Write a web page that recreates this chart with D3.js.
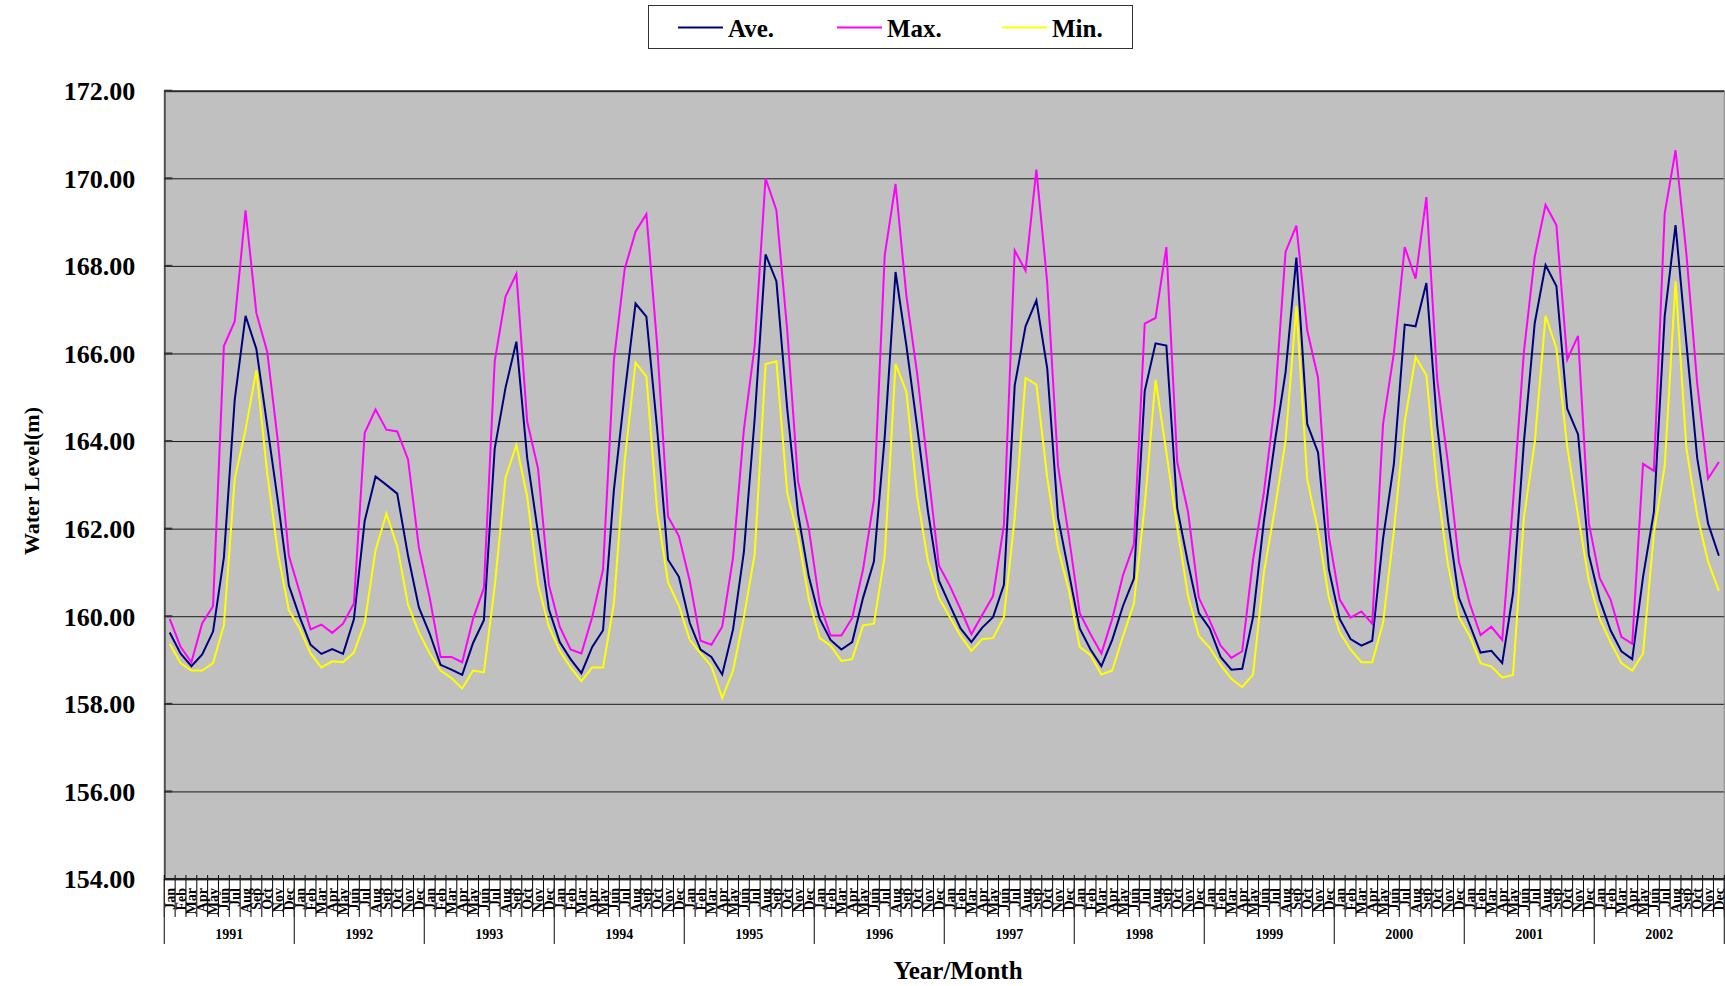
<!DOCTYPE html>
<html>
<head>
<meta charset="utf-8">
<script src="https://cdn.jsdelivr.net/npm/d3@7"></script>
<style>
  body { margin: 0; background: #fff; }
  text { font-family: "Liberation Serif", "Times New Roman", serif; font-weight: bold; fill: #000; }
</style>
</head>
<body>
<svg width="1725" height="986"></svg>
<script>
// monthly water level (m), 1991-2002
var years = ["1991", "1992", "1993", "1994", "1995", "1996", "1997", "1998", "1999", "2000", "2001", "2002"];
var months = ["Jan", "Feb", "Mar", "Apr", "May", "Jun", "Jul", "Aug", "Sep", "Oct", "Nov", "Dec"];
var yTicks = [154, 156, 158, 160, 162, 164, 166, 168, 170, 172];

var ave = [
  159.63, 159.15, 158.86, 159.13, 159.65, 161.34, 164.94, 166.86, 166.10, 164.35, 162.60, 160.70,
  159.98, 159.35, 159.14, 159.25, 159.14, 159.93, 162.18, 163.19, 163.00, 162.80, 161.38, 160.20,
  159.60, 158.89, 158.78, 158.66, 159.39, 159.91, 163.83, 165.22, 166.27, 163.61, 161.90, 160.16,
  159.41, 159.02, 158.70, 159.30, 159.68, 162.88, 165.09, 167.14, 166.84, 164.26, 161.29, 160.90,
  159.85, 159.24, 159.07, 158.67, 159.70, 161.47, 164.52, 168.26, 167.65, 164.74, 162.34, 160.90,
  159.94, 159.46, 159.24, 159.41, 160.42, 161.25, 164.09, 167.86, 166.18, 164.31, 162.38, 160.81,
  160.26, 159.72, 159.41, 159.74, 159.98, 160.72, 165.27, 166.62, 167.21, 165.66, 162.25, 160.99,
  159.72, 159.24, 158.86, 159.46, 160.24, 160.86, 165.14, 166.23, 166.18, 162.47, 161.21, 160.07,
  159.72, 159.07, 158.78, 158.80, 159.98, 162.17, 163.96, 165.57, 168.19, 164.39, 163.74, 161.07,
  159.94, 159.48, 159.33, 159.44, 161.77, 163.48, 166.66, 166.62, 167.61, 164.35, 162.17, 160.42,
  159.81, 159.17, 159.21, 158.93, 160.53, 163.97, 166.69, 168.02, 167.54, 164.74, 164.15, 161.40,
  160.38, 159.68, 159.20, 159.02, 160.90, 162.38, 166.86, 168.93, 166.23, 163.61, 162.12, 161.38
];

var max = [
  159.94, 159.30, 158.95, 159.84, 160.23, 166.17, 166.73, 169.27, 166.92, 166.04, 163.96, 161.38,
  160.55, 159.70, 159.81, 159.62, 159.83, 160.29, 164.19, 164.72, 164.26, 164.22, 163.58, 161.57,
  160.42, 159.07, 159.07, 158.95, 159.94, 160.64, 165.82, 167.30, 167.82, 164.44, 163.37, 160.72,
  159.76, 159.24, 159.15, 159.98, 161.07, 165.83, 167.93, 168.78, 169.18, 166.18, 162.27, 161.83,
  160.81, 159.44, 159.35, 159.76, 161.34, 164.26, 166.18, 170.00, 169.27, 166.53, 163.08, 161.99,
  160.29, 159.56, 159.56, 159.96, 161.07, 162.65, 168.24, 169.87, 167.32, 165.53, 163.34, 161.16,
  160.70, 160.16, 159.59, 160.03, 160.46, 162.08, 168.35, 167.89, 170.20, 167.62, 163.43, 161.82,
  160.07, 159.59, 159.15, 159.94, 160.94, 161.64, 166.68, 166.81, 168.43, 163.52, 162.38, 160.42,
  159.90, 159.33, 159.05, 159.20, 161.29, 162.82, 164.83, 168.32, 168.92, 166.53, 165.44, 161.82,
  160.38, 159.97, 160.11, 159.83, 164.39, 166.01, 168.43, 167.71, 169.57, 165.40, 163.48, 161.25,
  160.29, 159.57, 159.76, 159.46, 162.60, 166.03, 168.21, 169.39, 168.93, 165.86, 166.40, 162.12,
  160.87, 160.38, 159.53, 159.37, 163.48, 163.32, 169.20, 170.64, 168.28, 165.31, 163.14, 163.52
];

var min = [
  159.37, 158.93, 158.76, 158.76, 158.93, 159.79, 163.13, 164.26, 165.62, 163.26, 161.42, 160.14,
  159.72, 159.15, 158.83, 158.97, 158.95, 159.17, 159.85, 161.51, 162.34, 161.60, 160.26, 159.63,
  159.15, 158.76, 158.59, 158.35, 158.76, 158.72, 160.68, 163.17, 163.91, 162.73, 160.72, 159.76,
  159.21, 158.83, 158.52, 158.83, 158.83, 160.29, 163.56, 165.79, 165.47, 162.38, 160.77, 160.24,
  159.46, 159.15, 158.86, 158.13, 158.76, 159.98, 161.42, 165.76, 165.82, 162.82, 161.82, 160.38,
  159.50, 159.33, 158.98, 159.02, 159.79, 159.83, 161.38, 165.76, 165.12, 162.73, 161.25, 160.42,
  159.98, 159.55, 159.21, 159.48, 159.50, 159.98, 162.25, 165.44, 165.29, 163.17, 161.55, 160.59,
  159.30, 159.11, 158.67, 158.76, 159.55, 160.29, 162.52, 165.40, 163.74, 162.03, 160.46, 159.55,
  159.28, 158.89, 158.57, 158.38, 158.67, 160.99, 162.43, 164.00, 167.08, 163.13, 161.95, 160.42,
  159.63, 159.24, 158.95, 158.95, 159.85, 161.95, 164.44, 165.92, 165.50, 162.95, 161.16, 159.98,
  159.55, 158.93, 158.85, 158.60, 158.66, 162.25, 163.96, 166.86, 166.12, 163.87, 162.30, 160.81,
  159.94, 159.41, 158.93, 158.76, 159.15, 161.90, 163.43, 167.65, 163.83, 162.30, 161.25, 160.58
];

var seriesNames = ["Ave.", "Max.", "Min."];
var seriesColors = ["#000080", "#FF00FF", "#FFFF00"];

var svg = d3.select("svg"),
    plotLeft = 164.3, plotRight = 1724.3, plotTop = 90.7, plotBottom = 879;

// one band per month
var keys = [];
years.forEach(function(yr) { months.forEach(function(m) { keys.push(yr + "-" + m); }); });

var x = d3.scaleBand().domain(keys).range([plotLeft, plotRight]).paddingInner(0).paddingOuter(0);
var y = d3.scaleLinear().domain([154, 172]).range([plotBottom, plotTop]);

// plot background
svg.append("rect")
    .attr("x", plotLeft).attr("y", plotTop)
    .attr("width", plotRight - plotLeft).attr("height", plotBottom - plotTop)
    .attr("fill", "#C0C0C0");

// horizontal grid + left axis
var yAxis = d3.axisLeft(y).tickValues(yTicks).tickSize(-(plotRight - plotLeft)).tickFormat(d3.format(".2f")).tickPadding(29);
var gy = svg.append("g").attr("transform", "translate(" + plotLeft + ",0)").call(yAxis);
gy.select(".domain").attr("stroke", "#505050").attr("stroke-width", 2);
gy.selectAll(".tick line").attr("stroke", "#1a1a1a").attr("stroke-width", 1);
gy.selectAll(".tick text").attr("font-size", 26).attr("dy", "0.34em")
    .style("font-family", "'Liberation Serif', 'Times New Roman', serif").style("font-weight", "bold");

// inward short ticks
svg.selectAll(".ytick").data(yTicks).enter().append("line")
    .attr("x1", plotLeft).attr("x2", plotLeft + 8)
    .attr("y1", function(d) { return y(d); }).attr("y2", function(d) { return y(d); })
    .attr("stroke", "#333").attr("stroke-width", 2);

// right border
svg.append("line").attr("x1", plotRight).attr("x2", plotRight).attr("y1", plotTop).attr("y2", plotBottom)
    .attr("stroke", "#808080").attr("stroke-width", 1);

// month separators
svg.selectAll(".msep").data(keys.concat(["end"])).enter().append("line")
    .attr("x1", function(d, i) { return i < keys.length ? x(d) : plotRight; })
    .attr("x2", function(d, i) { return i < keys.length ? x(d) : plotRight; })
    .attr("y1", plotBottom - 4).attr("y2", 917)
    .attr("stroke", "#000").attr("stroke-width", 1);

// month labels
svg.selectAll(".mlab").data(keys).enter().append("text")
    .attr("transform", function(d) { return "translate(" + (x(d) + x.bandwidth() / 2 + 5) + ",888) rotate(-90)"; })
    .attr("text-anchor", "end")
    .attr("font-size", 14)
    .text(function(d) { return d.split("-")[1]; });

// year separators and labels
var yearW = (plotRight - plotLeft) / years.length;
svg.selectAll(".ysep").data(d3.range(years.length + 1)).enter().append("line")
    .attr("x1", function(i) { return plotLeft + i * yearW; })
    .attr("x2", function(i) { return plotLeft + i * yearW; })
    .attr("y1", plotBottom).attr("y2", 944)
    .attr("stroke", "#303030").attr("stroke-width", 1.2);

svg.selectAll(".ylab").data(years).enter().append("text")
    .attr("x", function(d, i) { return plotLeft + (i + 0.5) * yearW; })
    .attr("y", 939)
    .attr("text-anchor", "middle")
    .attr("font-size", 14)
    .text(function(d) { return d; });

// axis titles
svg.append("text")
    .attr("x", 958).attr("y", 979)
    .attr("text-anchor", "middle").attr("font-size", 25)
    .text("Year/Month");

svg.append("text")
    .attr("transform", "translate(39,481) rotate(-90)")
    .attr("text-anchor", "middle").attr("font-size", 22)
    .text("Water Level(m)");

// series lines
var line = d3.line()
    .x(function(d, i) { return x(keys[i]) + x.bandwidth() / 2; })
    .y(function(d) { return y(d); });

[ave, max, min].forEach(function(s, k) {
    svg.append("path")
        .datum(s)
        .attr("fill", "none")
        .attr("stroke", seriesColors[k])
        .attr("stroke-width", 2)
        .attr("stroke-linejoin", "miter")
        .attr("d", line);
});

// bottom axis line
svg.append("line").attr("x1", plotLeft).attr("x2", plotRight).attr("y1", plotBottom).attr("y2", plotBottom)
    .attr("stroke", "#202020").attr("stroke-width", 2);

// legend
var legend = svg.append("g");
legend.append("rect")
    .attr("x", 648.5).attr("y", 5.5).attr("width", 484).attr("height", 43)
    .attr("fill", "#fff").attr("stroke", "#333").attr("stroke-width", 1);

var legX = [678, 837, 1002];
seriesNames.forEach(function(name, k) {
    legend.append("line")
        .attr("x1", legX[k]).attr("x2", legX[k] + 45)
        .attr("y1", 27.5).attr("y2", 27.5)
        .attr("stroke", seriesColors[k]).attr("stroke-width", 2);
    legend.append("text")
        .attr("x", legX[k] + 50).attr("y", 37)
        .attr("font-size", 25)
        .text(name);
});
</script>
</body>
</html>
